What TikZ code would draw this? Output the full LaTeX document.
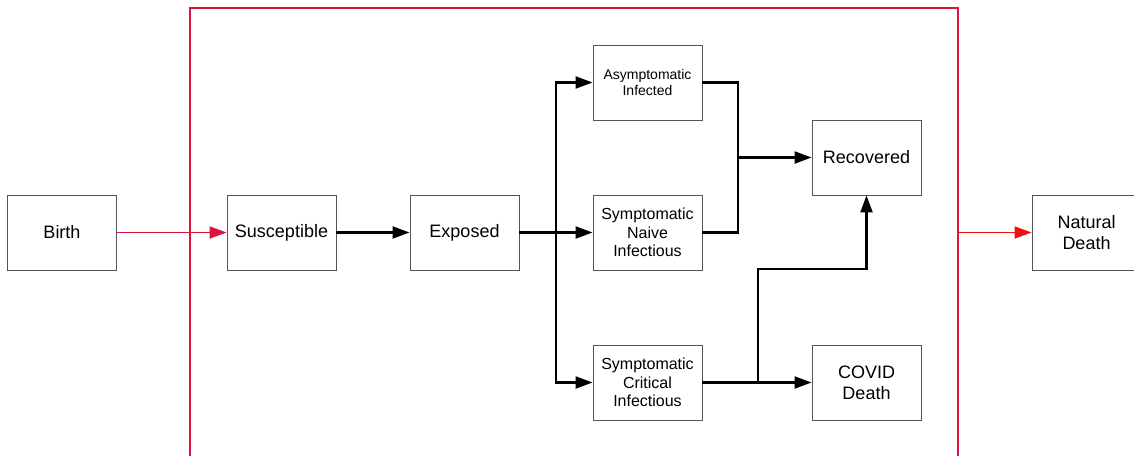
\documentclass[tikz,border=0pt]{standalone}
\usepackage{fontspec}
\setmainfont{Liberation Sans}
\usetikzlibrary{arrows.meta}
\definecolor{boxgray}{HTML}{555555}
\definecolor{crim}{HTML}{DC143C}
\definecolor{pured}{HTML}{F01010}
\begin{document}
\begin{tikzpicture}[x=1pt,y=-1pt,
  box/.style={draw=boxgray, line width=0.9pt, minimum width=109pt, minimum height=75pt, inner sep=0pt, align=center, font=\fontsize{18}{21}\selectfont},
  midbox/.style={box, font=\fontsize{16}{18.3}\selectfont},
  smallbox/.style={box, font=\fontsize{14}{16.7}\selectfont},
  line/.style={draw=black, line width=2.2pt},
  conn/.style={line, -{Triangle[length=17pt,width=12pt]}},
  redconn/.style={draw=crim, line width=1.8pt, -{Triangle[length=17pt,width=12pt]}},
  redconn2/.style={draw=pured, line width=1.8pt, -{Triangle[length=17pt,width=12pt]}},
  frame/.style={draw=crim, line width=1.8pt}]
\useasboundingbox (0,0) rectangle (1134,455);
\clip (0,0) rectangle (1134,455);
\node[box] (birth) at (62,232.5) {Birth};
\node[box] (sus) at (281.5,232.5) {Susceptible};
\node[box] (exp) at (464.5,232.5) {Exposed};
\node[smallbox] (asym) at (647.5,82.5) {Asymptomatic\\Infected};
\node[midbox] (sni) at (647.5,232.5) {Symptomatic\\Naive\\Infectious};
\node[midbox] (sci) at (647.5,382.5) {Symptomatic\\Critical\\Infectious};
\node[box] (rec) at (866.5,157.5) {Recovered};
\node[box] (covid) at (866.5,382.5) {COVID\\Death};
\node[box] (nat) at (1086.5,232.5) {Natural\\Death};
\coordinate (split) at (556,232.5);
\coordinate (join) at (738,157.5);
\coordinate (up) at (758,269);
\coordinate (fr) at (958,232.5);
\draw[frame] (190,460) -- (190,8) -- (958,8) -- (958,460);
\draw[redconn] (birth) -- (sus);
\draw[conn] (sus) -- (exp);
\draw[conn] (exp) -- (sni);
\draw[conn] (split) |- (asym.west);
\draw[conn] (split) |- (sci.west);
\draw[line] (asym.east) -| (join);
\draw[line] (sni.east) -| (join);
\draw[conn] (join) -- (rec.west);
\draw[conn] (sci) -- (covid);
\draw[conn] (sci.east -| up) -- (up) -| (rec.south);
\draw[redconn2] (fr) -- (nat.west);
\end{tikzpicture}
\end{document}
